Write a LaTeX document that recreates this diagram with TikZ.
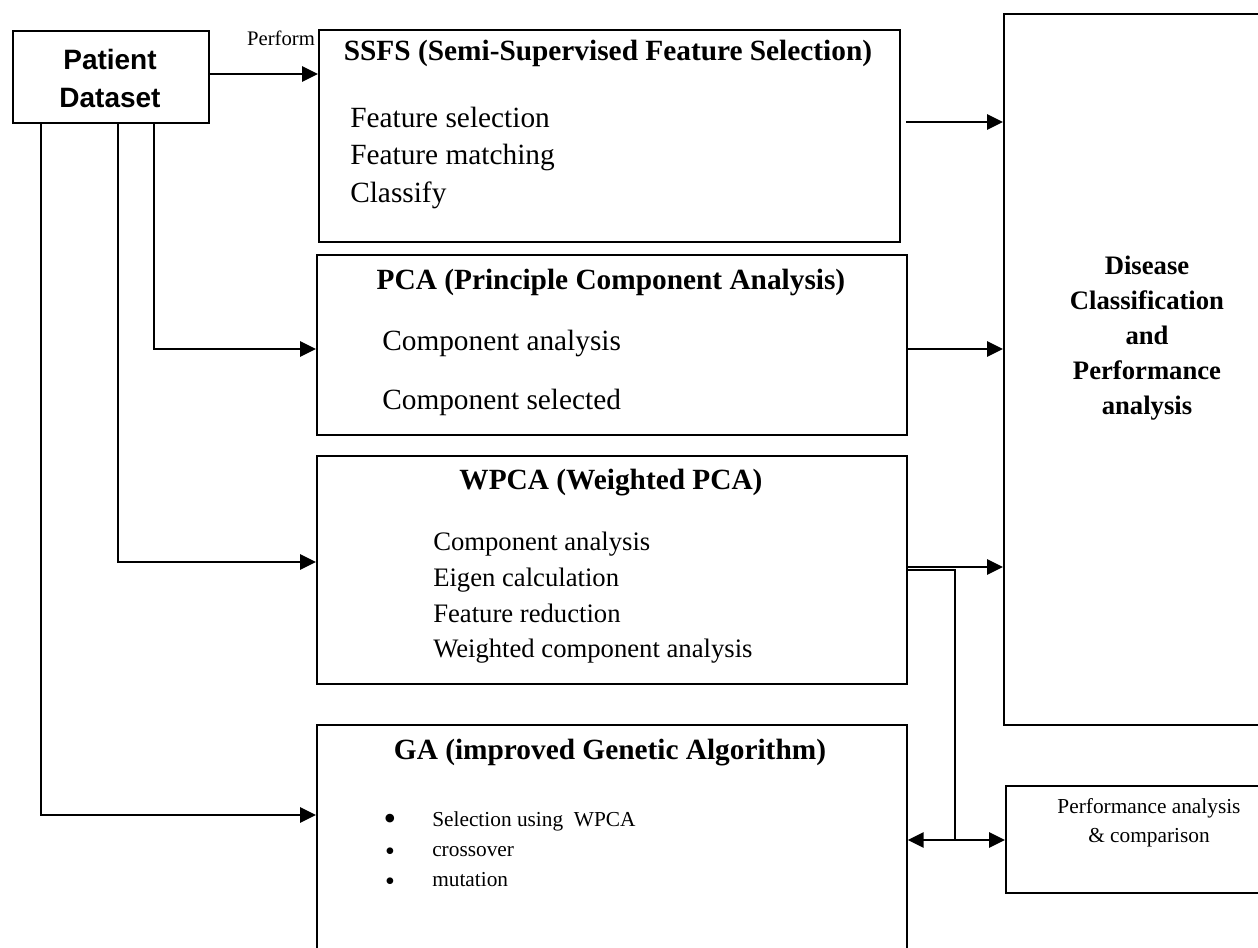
\documentclass[tikz,border=0pt]{standalone}
\usepackage{fontspec}
\setmainfont{Liberation Serif}
\newfontfamily\patfont{Liberation Sans}
\usetikzlibrary{arrows.meta}
\begin{document}
\begin{tikzpicture}[x=0.75pt,y=-0.75pt,
  box/.style={draw, line width=1.3pt, inner sep=0pt, anchor=north west},
  arr/.style={line width=1.3pt, -{Triangle[length=12pt,width=11.5pt]}},
  dbl/.style={line width=1.3pt, {Triangle[length=12pt,width=11.5pt]}-{Triangle[length=12pt,width=11.5pt]}},
  ttl/.style={font=\fontsize{22}{26}\selectfont\bfseries, inner sep=0pt},
  itm/.style={font=\fontsize{22}{26}\selectfont, inner sep=0pt, anchor=west, text height=0.7em, text depth=0.2em},
  witm/.style={font=\fontsize{20}{24}\selectfont, inner sep=0pt, anchor=west, text height=0.7em, text depth=0.2em},
  gitm/.style={font=\fontsize{16}{19}\selectfont, inner sep=0pt, anchor=west, text height=0.7em, text depth=0.2em},
  bul/.style={inner sep=0pt, text height=0.45em, text depth=0em}
]
\useasboundingbox (0,0) rectangle (1258,948);
\clip (0,0) rectangle (1258,948);

% boxes
\node[box, minimum width=147pt, minimum height=69pt] (pat) at (12,30) {};
\node[box, minimum width=435.75pt, minimum height=159pt] (ssfs) at (318,29) {};
\node[box, minimum width=442.5pt, minimum height=135pt] (pca) at (316,254) {};
\node[box, minimum width=442.5pt, minimum height=171pt] (wpca) at (316,455) {};
\node[box, minimum width=442.5pt, minimum height=200pt] (ga) at (316,724) {};
\node[box, minimum width=216pt, minimum height=533.25pt] (dis) at (1003,13) {};
\node[box, minimum width=216pt, minimum height=80.25pt] (perf) at (1005,785) {};

% texts
\node[font=\patfont\bfseries\fontsize{21}{28.5}\selectfont, align=center, inner sep=0pt] (pattxt) at (110,78) {Patient\\Dataset};
\node[font=\fontsize{15.5}{18}\selectfont, inner sep=0pt] (perflbl) at (281,38) {Perform};

\node[ttl] (ssfsT) at (608,53) {SSFS (Semi-Supervised Feature Selection)};
\node[itm] (s1) at (350,124) {Feature selection};
\node[itm] (s2) at (350,161) {Feature matching};
\node[itm] (s3) at (350,199) {Classify};

\node[ttl] (pcaT) at (611,282) {PCA (Principle Component Analysis)};
\node[itm] (p1) at (382,347) {Component analysis};
\node[itm] (p2) at (382,406) {Component selected};

\node[ttl] (wpcaT) at (611,483) {WPCA (Weighted PCA)};
\node[witm] (w1) at (433,547) {Component analysis};
\node[witm] (w2) at (433,583) {Eigen calculation};
\node[witm] (w3) at (433,619) {Feature reduction};
\node[witm] (w4) at (433,654) {Weighted component analysis};

\node[ttl] (gaT) at (610,753) {GA (improved Genetic Algorithm)};
\node[bul, font=\fontsize{27}{27}\selectfont] (b1) at (390,827) {•};
\node[bul, font=\fontsize{21}{21}\selectfont] (b2) at (390,857) {•};
\node[bul, font=\fontsize{21}{21}\selectfont] (b3) at (390,887) {•};
\node[gitm] (g1) at (432,823) {Selection using \ WPCA};
\node[gitm] (g2) at (432,853) {crossover};
\node[gitm] (g3) at (432,883) {mutation};

\node[font=\fontsize{20}{26.25}\selectfont\bfseries, align=center, inner sep=0pt] (distxt) at (1147,338) {Disease\\Classification\\and\\Performance\\analysis};
\node[font=\fontsize{16}{21.75}\selectfont, align=center, inner sep=0pt] (perftxt) at (1149,823) {Performance analysis\\\& comparison};

% connectors
\coordinate (yA) at (0,74);
\draw[arr] (pat.east |- yA) -- (ssfs.west |- yA);
\coordinate (kP) at (154,349);
\draw[arr] (pat.south -| kP) |- (pca.west |- kP);
\coordinate (kW) at (118,562);
\draw[arr] (pat.south -| kW) |- (wpca.west |- kW);
\coordinate (kG) at (41,815);
\draw[arr] (pat.south -| kG) |- (ga.west |- kG);

\coordinate (sOut) at (906,122);
\draw[arr] (sOut) -- (dis.west |- sOut);
\coordinate (yP) at (0,349);
\draw[arr] (pca.east |- yP) -- (dis.west |- yP);
\coordinate (yW) at (0,567);
\draw[arr] (wpca.east |- yW) -- (dis.west |- yW);
\coordinate (yW2) at (0,570);
\coordinate (jn) at (955,840);
\draw[line width=1.3pt] (wpca.east |- yW2) -| (jn);
\draw[dbl] (ga.east |- jn) -- (perf.west |- jn);
\end{tikzpicture}
\end{document}
